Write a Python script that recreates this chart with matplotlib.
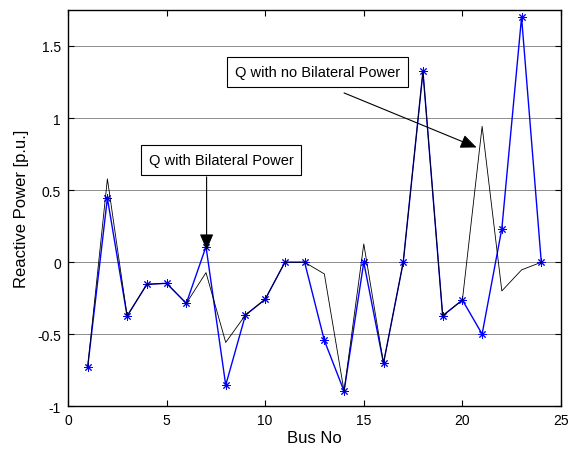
import matplotlib
matplotlib.use("Agg")
import matplotlib.pyplot as plt

plt.rcParams['font.family'] = ['Liberation Sans', 'DejaVu Sans']

bus = list(range(1, 25))
q_bilateral = [-0.727, 0.444, -0.373, -0.153, -0.146, -0.285, 0.108, -0.852,
               -0.366, -0.257, 0.0, 0.0, -0.542, -0.894, 0.0, -0.70,
               0.0, 1.323, -0.371, -0.262, -0.498, 0.233, 1.699, 0.0]
q_no_bilateral = [-0.727, 0.578, -0.373, -0.153, -0.146, -0.285, -0.072, -0.556,
                  -0.366, -0.257, 0.0, 0.0, -0.081, -0.894, 0.127, -0.70,
                  0.0, 1.323, -0.371, -0.262, 0.942, -0.199, -0.053, 0.0]

x_ticks = [0, 5, 10, 15, 20, 25]
y_ticks = [-1, -0.5, 0, 0.5, 1, 1.5]
y_tick_labels = ['-1', '-0.5', '0', '0.5', '1', '1.5']

fig = plt.figure(figsize=(5.71, 4.52), dpi=100)
ax = fig.add_axes([0.119, 0.0985, 0.8635, 0.8775])

ax.plot(bus, q_bilateral, color='#0000ff', linewidth=1.0,
        marker=(8, 2, 0), markersize=6, markeredgewidth=0.7, zorder=3)
ax.plot(bus, q_no_bilateral, color='black', linewidth=0.6, zorder=4)

ax.set_xlim(0, 25)
ax.set_ylim(-1, 1.75)
ax.set_xticks(x_ticks)
ax.set_yticks(y_ticks)
ax.set_yticklabels(y_tick_labels)
ax.yaxis.grid(True, color='#7a7a7a', linewidth=0.6, linestyle='-')
ax.set_axisbelow(True)
ax.tick_params(direction='in', top=True, right=True, length=4, width=0.8,
               labelsize=10, pad=5)
for s in ax.spines.values():
    s.set_linewidth(1.0)

ax.set_xlabel('Bus No', fontsize=12, labelpad=2)
ax.set_ylabel('Reactive Power [p.u.]', fontsize=12, labelpad=6)

box = dict(boxstyle='square,pad=0.55', facecolor='white', edgecolor='black', linewidth=0.8)
arrow = dict(arrowstyle='-|>,head_length=0.7,head_width=0.3', color='black',
             linewidth=0.8, mutation_scale=14, shrinkA=0, shrinkB=0)

ax.text(7.76, 0.707, 'Q with Bilateral Power', fontsize=10.5, ha='center', va='center',
        bbox=box, zorder=6)
ax.annotate('', xy=(7.03, 0.085), xytext=(7.03, 0.592), arrowprops=arrow, zorder=6)

ax.text(12.66, 1.318, 'Q with no Bilateral Power', fontsize=10.5, ha='center', va='center',
        bbox=box, zorder=6)
ax.annotate('', xy=(20.72, 0.796), xytext=(14.0, 1.174), arrowprops=arrow, zorder=6)

fig.savefig('out.png', dpi=100)
